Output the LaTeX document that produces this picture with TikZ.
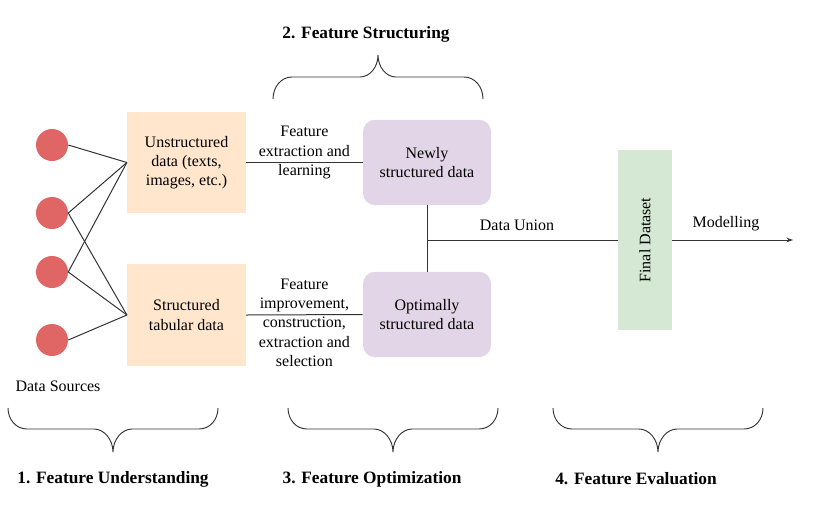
\documentclass[tikz,border=0pt]{standalone}
\usepackage{fontspec}
\setmainfont{Liberation Serif}
\usetikzlibrary{arrows.meta,calc}
\definecolor{srcred}{HTML}{E06666}
\definecolor{peach}{HTML}{FFE6CC}
\definecolor{lavender}{HTML}{E1D5E7}
\definecolor{mint}{HTML}{D5E8D4}
\tikzset{
  every node/.style={font=\fontsize{12}{14.4}\selectfont},
  source/.style={circle,fill=srcred,minimum size=24pt,inner sep=0pt},
  rawbox/.style={fill=peach,minimum width=89pt,minimum height=76pt,align=center,inner sep=2pt},
  structbox/.style={fill=lavender,rounded corners=9pt,minimum width=96pt,minimum height=64pt,align=center,inner sep=2pt},
  link/.style={draw=black!80,line width=0.75pt},
  steplabel/.style={align=center,inner sep=1pt},
  phase/.style={font=\fontsize{13}{15}\selectfont\bfseries}
}

\begin{document}
\begin{tikzpicture}[x=0.75pt,y=-0.75pt,>=Stealth]
  \useasboundingbox (0,0) rectangle (832,508);
    % data sources
    \foreach \ypos[count=\nn] in {145,213,272,340}{%
        \node[source] (src-\nn) at (52,\ypos) {};
    }
    \node (srclabel) at (58,386) {Data Sources};
    \node[rawbox] (unstr) at (186.5,162.5) {Unstructured\\data (texts,\\images, etc.)};
    \node[rawbox] (struc) at (186.5,315) {Structured\\tabular data};
    \foreach \s/\t in {1/unstr,2/unstr,2/struc,3/unstr,3/struc,4/struc}{%
        \draw[link] (src-\s.east) -- (\t.west);
    }
    % structuring and optimization
    \node[structbox] (newly) at (427,162.5) {Newly\\structured data};
    \node[structbox] (optim) at (427,314.5) {Optimally\\structured data};
    \draw[link] (unstr.east) -- (newly.west)
        node[midway,steplabel,yshift=7.5pt] (extract) {Feature\\extraction and\\learning};
    \draw[link] (struc.east) -- (optim.west)
        node[midway,steplabel,yshift=-6pt] (improve) {Feature\\improvement,\\construction,\\extraction and\\selection};
    % union and evaluation
    \node[fill=mint,minimum width=40.5pt,minimum height=135pt,inner sep=0pt] (final) at (645,240) {};
    \node[rotate=90] (finallabel) at (final.center) {Final Dataset};
    \coordinate (union) at (427,240);
    \coordinate (model) at (793,240);
    \draw[link] (newly.south) -- (optim.north);
    \draw[link] (union) -- (final.west) node[midway,above=3pt,xshift=-4pt] (unionlabel) {Data Union};
    \draw[link,-{Stealth[length=5pt,width=3.5pt]}] (final.east) -- (model)
        node[midway,above=3pt,xshift=-5pt] (modellabel) {Modelling};
    % phase braces
    \draw[link,line width=0.7pt] (273,99) .. controls (273,87) and (281,77) .. (292,77) -- (360,77)
        .. controls (370,77) and (378,67) .. (378,55) .. controls (378,67) and (386,77) .. (396,77) -- (464,77)
        .. controls (475,77) and (483,87) .. (483,99);
    \node[phase] (phase-2) at (366,34) {2. Feature Structuring};
    \foreach \xa/\xb/\xlab/\phasename[count=\nn] in {%
        8/218/113/{1. Feature Understanding},
        288/498/372/{3. Feature Optimization},
        553/763/636/{4. Feature Evaluation}%
    }{%
        \pgfmathsetmacro\xm{(\xa+\xb)/2}
        \draw[link,line width=0.7pt] (\xa,408) .. controls (\xa,419.5) and (\xa+8,429) .. (\xa+19,429) -- (\xm-19,429)
            .. controls (\xm-9,429) and (\xm,439.5) .. (\xm,452) .. controls (\xm,439.5) and (\xm+9,429) .. (\xm+19,429)
            -- (\xb-19,429) .. controls (\xb-8,429) and (\xb,419.5) .. (\xb,408);
        \node[phase] (phase-b\nn) at (\xlab,479) {\phasename};
    }
\end{tikzpicture}
\end{document}
